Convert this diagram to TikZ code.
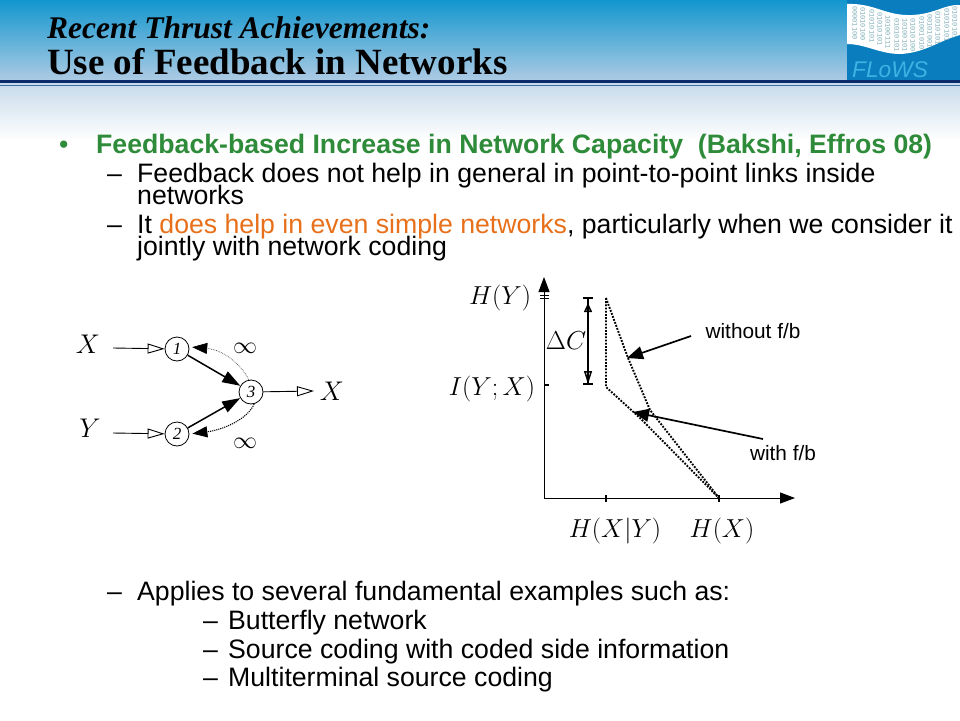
\RequirePackage{fix-cm}
\documentclass[tikz,border=0pt]{standalone}
\usepackage{fontspec}
\setmainfont{Liberation Sans}
\newfontfamily\serifttl{Liberation Serif}
\newfontfamily\monobits{Liberation Mono}
\usetikzlibrary{arrows.meta}
\definecolor{fbgreen}{HTML}{2E8B3A}
\definecolor{fborange}{HTML}{E8701A}
\definecolor{rulenavy}{HTML}{0B2A6B}
\definecolor{ruleblue}{HTML}{3F6FA8}
\definecolor{logoblue}{HTML}{0A7DBE}
\definecolor{logotext}{HTML}{3DB2E3}
\definecolor{bitcol}{HTML}{7FAEB8}
\tikzset{
  x=1pt,y=-1pt,
  bodytext/.style={anchor=base west,inner sep=0pt,font=\fontsize{26.67}{26.67}\selectfont,text=black},
  mathlab/.style={inner sep=0pt,font=\fontsize{26}{26}\selectfont},
  netlab/.style={inner sep=0pt,font=\fontsize{27}{27}\selectfont},
  inflab/.style={inner sep=0pt,font=\fontsize{24}{24}\selectfont},
  smalllab/.style={inner sep=0pt,font=\fontsize{20.8}{20.8}\selectfont},
  netnode/.style={circle,draw=black,line width=0.8pt,minimum size=24pt,inner sep=0pt,font=\fontsize{17}{17}\selectfont\itshape\serifttl},
  openarrow/.style={draw=black,line width=0.9pt,-{Triangle[open,length=17pt,width=10pt]}},
  heavyarrow/.style={draw=black,line width=1.5pt,-{Triangle[length=18pt,width=12pt]}},
  fbarrow/.style={densely dotted,-{Triangle[length=15pt,width=11pt,color=black]},shorten >=3pt},
  axisline/.style={draw=black,line width=1pt,-{Triangle[length=15pt,width=11pt]}},
  tickline/.style={draw=black,line width=1.2pt},
  ratecurve/.style={draw=black,line width=1.9pt,dash pattern=on 1.8pt off 1.4pt},
  callout/.style={draw=black,line width=1.7pt,-{Triangle[length=16pt,width=13pt]}},
  gapmark/.style={draw=black,line width=1.5pt,{Triangle[open,length=9pt,width=8pt]}-{Triangle[open,length=13pt,width=8pt]},shorten <=5pt},
  bitcolumn/.style={inner sep=0pt,rotate=-90,text=bitcol,font=\fontsize{7}{7}\selectfont\monobits}
}
\begin{document}
\begin{tikzpicture}
\useasboundingbox (0,0) rectangle (960,720);
\fill[white] (0,0) rectangle (960,720);
\fill[top color={rgb,255:red,18;green,150;blue,206},bottom color={rgb,255:red,176;green,204;blue,228}] (0,0) rectangle (960,82);
\fill[top color={rgb,255:red,198;green,217;blue,234},bottom color=white] (0,82) rectangle (960,140);
% logo
\fill[logoblue] (847,0) rectangle (960,80);
\fill[white] (847,4) .. controls (875,3) and (885,16) .. (912,15) .. controls (935,14) and (945,4) .. (960,5)
  -- (960,35) .. controls (940,40) and (925,53) .. (900,54) .. controls (880,54) and (865,44) .. (847,44) -- cycle;
\begin{scope}
\clip (847,4) .. controls (875,3) and (885,16) .. (912,15) .. controls (935,14) and (945,4) .. (960,5)
  -- (960,35) .. controls (940,40) and (925,53) .. (900,54) .. controls (880,54) and (865,44) .. (847,44) -- cycle;
\node[bitcolumn] (b1) at (855,23) {00001100};
\node[bitcolumn] (b2) at (863,24) {01010100};
\node[bitcolumn] (b3) at (872,26) {01010101};
\node[bitcolumn] (b4) at (880,29) {01010101};
\node[bitcolumn] (b5) at (888,32) {10100111};
\node[bitcolumn] (b6) at (897,35) {01010101};
\node[bitcolumn] (b7) at (905,35) {10100101};
\node[bitcolumn] (b8) at (913,35) {01010100};
\node[bitcolumn] (b9) at (922,33) {01001010};
\node[bitcolumn] (b10) at (930,31) {00101001};
\node[bitcolumn] (b11) at (938,28) {01010101};
\node[bitcolumn] (b12) at (947,25) {01010101};
\node[bitcolumn] (b13) at (955,23) {01010101};
\end{scope}
\node[inner sep=0pt,anchor=base west,text=logotext,font=\fontsize{22.7}{22.7}\selectfont\itshape] (logoname) at (852,77) {FLoWS};
% rules
\fill[rulenavy] (0,80) rectangle (960,83);
\fill[ruleblue] (0,84.5) rectangle (960,86);
% titles
\node[inner sep=0pt,anchor=base west,font=\fontsize{31.5}{31.5}\selectfont\serifttl\bfseries\itshape] (t1) at (47,38) {Recent Thrust Achievements:};
\node[inner sep=0pt,anchor=base west,font=\fontsize{37}{37}\selectfont\serifttl\bfseries] (t2) at (47,74) {Use of Feedback in Networks};
% body
\node[bodytext,text=fbgreen] (bul) at (59,153) {•};
\node[bodytext,text=fbgreen,font=\fontsize{26.67}{26.67}\selectfont\bfseries] (h1) at (96,153) {Feedback-based Increase in Network Capacity\ \ (Bakshi, Effros 08)};
\node[bodytext] (d1) at (107,182) {–};
\node[bodytext] (l1) at (137,182) {Feedback does not help in general in point-to-point links inside};
\node[bodytext] (l1b) at (137,204) {networks};
\node[bodytext] (d2) at (107,233) {–};
\node[bodytext] (l2) at (137,233) {It \textcolor{fborange}{does help in even simple networks}, particularly when we consider it};
\node[bodytext] (l2b) at (137,255) {jointly with network coding};
\node[bodytext] (d3) at (107,600) {–};
\node[bodytext] (l3) at (137,600) {Applies to several fundamental examples such as:};
\node[bodytext] (d4) at (203,629.5) {–};
\node[bodytext] (l4) at (228,629.5) {Butterfly network};
\node[bodytext] (d5) at (203,658) {–};
\node[bodytext] (l5) at (228,658) {Source coding with coded side information};
\node[bodytext] (d6) at (203,686.5) {–};
\node[bodytext] (l6) at (228,686.5) {Multiterminal source coding};
% network
\node[netnode] (n1) at (177,349) {1};
\node[netnode] (n2) at (177,434) {2};
\node[netnode] (n3) at (251,392) {3};
\node[netlab] (sx) at (88,344) {$X$};
\node[netlab] (sy) at (90,428) {$Y$};
\node[netlab] (dx) at (332,391) {$X$};
\node[inflab] (inf1) at (245,348) {$\infty$};
\node[inflab] (inf2) at (245,443) {$\infty$};
\coordinate (sxe) at (113,348);
\coordinate (sye) at (113,433);
\coordinate (dxe) at (314,391);
\draw[openarrow] (sxe) -- (n1);
\draw[openarrow] (sye) -- (n2);
\draw[openarrow] (n3) -- (dxe);
\draw[heavyarrow] (n1) -- (n3);
\draw[heavyarrow] (n2) -- (n3);
\draw[fbarrow,line width=0.7pt,draw=black!75] (n3.100) .. controls (242,366) and (225,350) .. (n1.10);
\draw[fbarrow,line width=1.1pt,draw=black] (n3.285) .. controls (247,420) and (222,430) .. (n2.0);
% rate region
\coordinate (org) at (544,498);
\coordinate (ytop) at (544,277);
\coordinate (xend) at (795,498);
\draw[axisline] (org) -- (ytop);
\draw[axisline] (org) -- (xend);
\coordinate (yt1) at (540,295.5);
\coordinate (yt1e) at (549,295.5);
\coordinate (yt2) at (540,298.5);
\coordinate (yt2e) at (549,298.5);
\coordinate (yt3) at (544,385);
\coordinate (yt3e) at (549,385);
\coordinate (xt1) at (606,495);
\coordinate (xt1e) at (606,502);
\coordinate (xt2) at (719,495);
\coordinate (xt2e) at (719,502);
\draw[tickline] (yt1) -- (yt1e);
\draw[tickline] (yt2) -- (yt2e);
\draw[tickline] (yt3) -- (yt3e);
\draw[tickline] (xt1) -- (xt1e);
\draw[tickline] (xt2) -- (xt2e);
\coordinate (p1) at (606,298);
\coordinate (p2) at (606,387);
\coordinate (p3) at (640,418);
\coordinate (p4) at (719,498);
\coordinate (p5) at (628,358);
\coordinate (p6) at (650,410);
\draw[ratecurve] (p1) -- (p2) -- (p3) -- (p4);
\draw[ratecurve] (p1) -- (p5) -- (p6) -- (p4);
\coordinate (g1) at (588,298);
\coordinate (g2) at (588,384);
\coordinate (g1a) at (583,298);
\coordinate (g1b) at (593,298);
\coordinate (g2a) at (583,384);
\coordinate (g2b) at (593,384);
\draw[tickline] (g1a) -- (g1b);
\draw[tickline] (g2a) -- (g2b);
\draw[tickline] (g1) -- (g2);
\draw[gapmark] (g1) -- (g2);
\node[mathlab] (hy) at (500,298) {$H(Y)$};
\node[mathlab] (iyx) at (492,389) {$I(Y;X)$};
\node[mathlab] (dc) at (566,341) {$\Delta C$};
\node[mathlab] (hxy) at (615,531) {$H(X|Y)$};
\node[mathlab] (hx) at (722,531) {$H(X)$};
\node[smalllab] (wo) at (753,331) {without f/b};
\node[smalllab] (wi) at (783,453) {with f/b};
\coordinate (woe) at (691,336);
\coordinate (wie) at (763,439);
\coordinate (wop) at (627,358);
\coordinate (wip) at (633,412);
\draw[callout] (woe) -- (wop);
\draw[callout] (wie) -- (wip);
\end{tikzpicture}
\end{document}
